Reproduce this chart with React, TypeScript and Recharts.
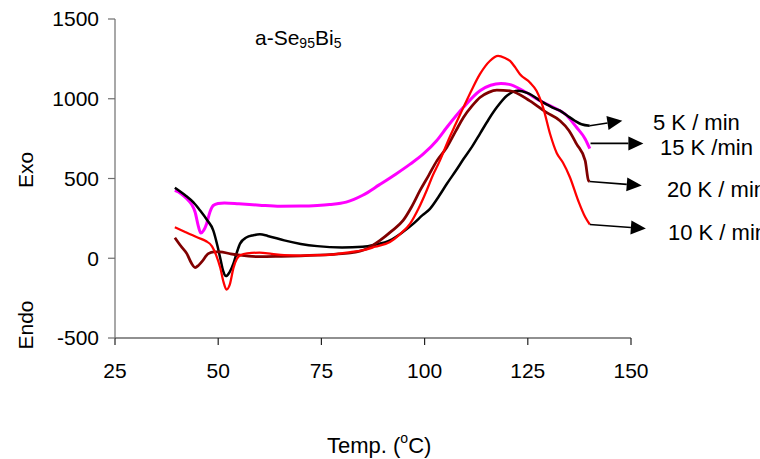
import React from "react";
import { LineChart, Line, XAxis, YAxis, ReferenceLine } from "recharts";

// ---- data (temperature °C, heat-flow signal) ----
const xTicks = [25, 50, 75, 100, 125, 150];
const yTicks = [-500, 0, 500, 1000, 1500];

const rate5: [number, number][] = [
  [39.5, 442], [42, 395], [44, 350], [45.6, 300], [47.3, 240], [48.8, 175], [49.8, 80],
  [50.5, 0], [51.2, -80], [51.9, -112], [52.7, -90], [53.7, -33], [54.5, 35], [55.3, 92],
  [56.8, 130], [58.5, 144], [60.1, 150], [62, 140], [66, 112], [70, 90], [74, 76],
  [80, 68], [85, 72], [88, 85], [91.6, 112], [94.5, 160], [97.3, 217], [99.5, 270],
  [101.3, 310], [103.5, 390], [105.4, 467], [107.6, 550], [109.5, 625], [111.5, 700],
  [113.5, 785], [115.5, 870], [117.5, 946], [120, 1020], [122.5, 1050], [125, 1035],
  [128.5, 980], [131, 945], [132.8, 925], [134.5, 895], [136.4, 862], [138, 840], [140, 831],
];

const rate10: [number, number][] = [
  [39.5, 195], [42, 165], [45, 130], [47, 108], [48.5, 75], [49.5, 20], [50.5, -60],
  [51.3, -150], [52, -196], [52.8, -165], [53.7, -60], [54.5, -5], [55.5, 20], [57, 30],
  [60, 35], [63, 27], [66, 19], [70, 17], [74, 19], [78, 24], [82, 38], [85, 50],
  [88, 72], [91.6, 102], [94, 150], [96.5, 217], [98.5, 310], [100.5, 425], [102, 520],
  [103.7, 612], [105.5, 725], [107.5, 840], [109.4, 946], [111.5, 1060], [113.4, 1154],
  [115.8, 1237], [117.8, 1269], [119.5, 1255], [120.7, 1237], [122, 1195], [123.1, 1154],
  [125.5, 1102], [127.1, 1050], [128.7, 946], [130.4, 779], [132, 660], [133.5, 600],
  [135.2, 508], [137.2, 362], [138.9, 258], [140, 212],
];

const rate15: [number, number][] = [
  [39.5, 425], [41, 405], [42.4, 373], [43.5, 340], [44.4, 290], [45.2, 200], [45.8, 158],
  [46.5, 175], [47.2, 217], [48, 290], [48.8, 331], [50, 343], [51.5, 347], [55, 342],
  [60, 333], [65, 326], [70, 327], [74, 331], [77, 337], [81, 352], [85, 395], [89, 460],
  [93, 527], [96.5, 590], [99.7, 654], [102.9, 737], [105.4, 821], [109.4, 946],
  [113.4, 1050], [116, 1085], [118.5, 1095], [120.5, 1090], [123.9, 1050], [128, 987],
  [132, 935], [134, 905], [136.8, 821], [138.9, 748], [140, 688],
];

const rate20: [number, number][] = [
  [39.5, 129], [41, 75], [42.4, 29], [43.5, -30], [44.4, -58], [45.2, -45], [46, -23],
  [47.6, 29], [49, 40], [50.4, 40], [53, 28], [55.3, 19], [60, 10], [65, 12], [70, 15],
  [74, 19], [78, 25], [82, 33], [86, 60], [89.2, 112], [92, 170], [94.8, 237],
  [96.8, 320], [98.9, 425], [101, 520], [103, 612], [105.4, 696], [107.5, 795],
  [109.4, 883], [111.5, 955], [113.4, 1008], [115.5, 1040], [117.5, 1054], [120.7, 1050],
  [125.5, 987], [129.5, 914], [132.8, 862], [135, 800], [136.8, 717], [138.9, 612],
  [139.7, 487], [140, 481],
];

// arrows: [fromT, fromV, toT, toV]
const arrows: [number, number, number, number][] = [
  [140, 831, 147.9, 862],
  [140.2, 720, 153.0, 720],
  [140, 481, 152.6, 456],
  [140, 212, 153.6, 186],
];

const rateLabels = ["5 K / min", "15 K /min", "20 K / min", "10 K / min"];

const toData = (pts: [number, number][]) => pts.map(([t, v]) => ({ t, v }));

const FONT = "'Liberation Sans', Arial, sans-serif";

const ArrowShape = (props: any) => {
  const { x1, y1, x2, y2 } = props;
  const dx = x2 - x1;
  const dy = y2 - y1;
  const len = Math.hypot(dx, dy) || 1;
  const ux = dx / len;
  const uy = dy / len;
  const hl = 15;
  const hw = 7;
  const bx = x2 - ux * hl;
  const by = y2 - uy * hl;
  const pts = `${x2},${y2} ${bx - uy * hw},${by + ux * hw} ${bx + uy * hw},${by - ux * hw}`;
  return (
    <g>
      <line x1={x1} y1={y1} x2={bx} y2={by} stroke="#000" strokeWidth={1.6} />
      <polygon points={pts} fill="#000" />
    </g>
  );
};

export default function App() {
  const tickStyle = { fontSize: 21, fill: "#000", fontFamily: FONT };
  return (
    <div style={{ position: "absolute", left: 0, top: 0, width: 760, height: 459, background: "#fff" }}>
      <LineChart
        width={760}
        height={459}
        margin={{ top: 19, right: 129, bottom: 0, left: 0 }}
        style={{ overflow: "visible" }}
      >
        <XAxis
          type="number"
          dataKey="t"
          domain={[25, 150]}
          ticks={xTicks}
          height={121}
          tickSize={7}
          tickMargin={18}
          tick={tickStyle}
          axisLine={{ stroke: "#222", strokeWidth: 1.2 }}
          tickLine={{ stroke: "#222", strokeWidth: 1.2 }}
          allowDataOverflow
        />
        <YAxis
          type="number"
          dataKey="v"
          domain={[-500, 1500]}
          ticks={yTicks}
          width={115}
          tickSize={7}
          tickMargin={9}
          tick={tickStyle}
          axisLine={{ stroke: "#6e6e6e", strokeWidth: 1.2 }}
          tickLine={{ stroke: "#6e6e6e", strokeWidth: 1.2 }}
          allowDataOverflow
        />
        <Line data={toData(rate15)} dataKey="v" type="monotone" stroke="#ff00ff" strokeWidth={3} dot={false} isAnimationActive={false} />
        <Line data={toData(rate5)} dataKey="v" type="monotone" stroke="#000000" strokeWidth={2.5} dot={false} isAnimationActive={false} />
        <Line data={toData(rate20)} dataKey="v" type="monotone" stroke="#800000" strokeWidth={2.75} dot={false} isAnimationActive={false} />
        <Line data={toData(rate10)} dataKey="v" type="monotone" stroke="#ff0000" strokeWidth={2.25} dot={false} isAnimationActive={false} />
        {arrows.map(([a, b, c, d], i) => (
          <ReferenceLine
            key={i}
            segment={[{ x: a, y: b }, { x: c, y: d }]}
            ifOverflow="visible"
            shape={ArrowShape}
          />
        ))}
      </LineChart>
      <svg
        width={760}
        height={459}
        style={{ position: "absolute", left: 0, top: 0, pointerEvents: "none", overflow: "hidden" }}
        fontFamily={FONT}
      >
        <text x={255} y={45} fontSize={21} fill="#000">
          a-Se
          <tspan fontSize={14} dy={3}>95</tspan>
          <tspan dy={-3}>Bi</tspan>
          <tspan fontSize={14} dy={3}>5</tspan>
        </text>
        <text transform="translate(33,170) rotate(-90)" textAnchor="middle" fontSize={21} fill="#000">Exo</text>
        <text transform="translate(33,325) rotate(-90)" textAnchor="middle" fontSize={21} fill="#000">Endo</text>
        <text x={327} y={453} fontSize={22} fill="#000">
          Temp. (
          <tspan fontSize={14} dy={-10}>o</tspan>
          <tspan dy={10}>C)</tspan>
        </text>
        <text x={653} y={130} fontSize={22} fill="#000">{rateLabels[0]}</text>
        <text x={660} y={155} fontSize={22} fill="#000">{rateLabels[1]}</text>
        <text x={667} y={197} fontSize={22} fill="#000">{rateLabels[2]}</text>
        <text x={668} y={240} fontSize={22} fill="#000">{rateLabels[3]}</text>
      </svg>
    </div>
  );
}
